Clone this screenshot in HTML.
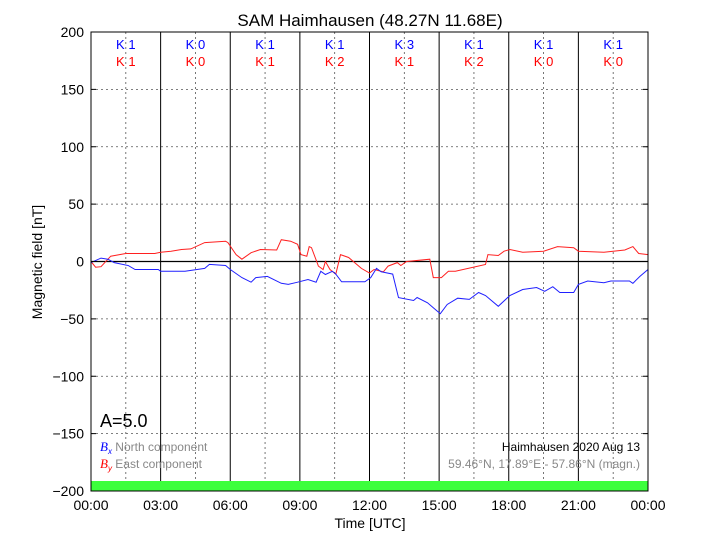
<!DOCTYPE html>
<html><head><meta charset="utf-8">
<style>
body{margin:0;background:#fff;}
svg{display:block;font-family:"Liberation Sans",sans-serif;}
</style></head>
<body>
<svg id="chart" width="720" height="540" viewBox="0 0 720 540">
<rect x="0" y="0" width="720" height="540" fill="#fff"/>
<text x="370" y="26" font-size="17" text-anchor="middle">SAM Haimhausen (48.27N 11.68E)</text>
<g id="grid"></g>
<rect x="91" y="481" width="557" height="10" fill="#3cff3c"/>
<g id="series"></g>
<g id="klabels"></g>
<text x="100" y="427" font-size="18">A=5.0</text>
<g>
<text x="100" y="451" font-size="12" fill="#888"><tspan fill="blue" font-family="Liberation Serif" font-style="italic" font-size="13">B</tspan><tspan fill="blue" font-size="8" dy="3" font-style="italic">x</tspan><tspan dy="-3"> North component</tspan></text>
<text x="100" y="468" font-size="12" fill="#888"><tspan fill="red" font-family="Liberation Serif" font-style="italic" font-size="13">B</tspan><tspan fill="red" font-size="8" dy="3" font-style="italic">y</tspan><tspan dy="-3"> East component</tspan></text>
</g>
<text x="640" y="451" font-size="12" text-anchor="end">Haimhausen 2020 Aug 13</text>
<text x="640" y="468" font-size="12" text-anchor="end" fill="#888">59.46°N, 17.89°E - 57.86°N (magn.)</text>
<text x="370" y="528" font-size="14" text-anchor="middle">Time [UTC]</text>
<text x="0" y="0" font-size="14" text-anchor="middle" transform="translate(42,262) rotate(-90)">Magnetic field [nT]</text>
<g id="axes"></g>
</svg>
<script>
const bxTime=[0,0.43,0.73,1.0,1.6,1.9,2.9,3.0,4.05,4.9,5.1,5.8,6.0,6.5,6.9,7.1,7.6,8.2,8.5,8.9,9.35,9.7,9.9,10.1,10.4,10.55,10.8,11.8,12.05,12.3,12.5,13.0,13.25,13.9,14.05,14.5,14.9,15.05,15.35,15.8,16.3,16.7,17.0,17.55,18.05,18.6,19.2,19.55,19.9,20.2,20.8,21.0,21.4,22.1,22.4,23.2,23.35,23.65,24];
const bxValues=[-1,3,2,-1,-3.5,-7,-7,-8.5,-8.5,-6,-2.5,-3.5,-7,-14,-18,-14,-13,-19,-20,-18,-15.7,-18,-8.5,-11.3,-8.5,-11,-17.7,-17.7,-14,-6,-9,-11,-31.5,-34,-31.4,-36,-43,-45.5,-37.5,-32,-33,-27,-29.6,-39,-29.6,-24.4,-22.7,-26,-22,-27,-27,-20,-17,-18.5,-17,-17,-19,-13,-7];
const byTime=[0,0.2,0.43,0.85,1.5,2.75,3.0,3.45,3.9,4.3,4.9,5.8,5.9,6.25,6.5,6.9,7.3,8.0,8.2,8.6,8.9,9.05,9.3,9.4,9.5,9.8,10.0,10.1,10.3,10.55,10.75,11.1,11.65,12.0,12.2,12.6,12.8,13.2,13.35,13.6,14.6,14.75,15.1,15.4,15.7,17.0,17.1,17.55,17.8,18.05,18.6,19.5,20.1,20.8,21.0,22.1,23.0,23.35,23.6,24];
const byValues=[0,-5,-4.5,4.6,7,7,8,9,10.5,11,16.5,17.7,16.5,6,2,7.7,10.5,10,19,17.7,15,6,4.6,13,12,-4,-7,0,-7,-11,6,3.5,-6,-10,-7,-9,-4,-1,-3.5,0,2,-14,-14,-8.5,-8.5,-2.6,6,5.2,9,10.5,8,9,13,12,9,8,10,13,7,6];
const kBx=["K 1","K 0","K 1","K 1","K 3","K 1","K 1","K 1"];
const kBy=["K 1","K 0","K 1","K 2","K 1","K 2","K 0","K 0"];
const yTicks=[200,150,100,50,0,-50,-100,-150,-200];
const xTicks=["00:00","03:00","06:00","09:00","12:00","15:00","18:00","21:00","00:00"];

const X0=91,X1=648,Y0=32,Y1=491;
const xs=t=>X0+(X1-X0)*t/24;
const ys=v=>Y0+(Y1-Y0)*(200-v)/400;
const NS="http://www.w3.org/2000/svg";
function mk(tag,attrs,parent){const e=document.createElementNS(NS,tag);for(const k in attrs)e.setAttribute(k,attrs[k]);parent.appendChild(e);return e;}
const grid=document.getElementById('grid'),axes=document.getElementById('axes'),series=document.getElementById('series'),kl=document.getElementById('klabels');

yTicks.forEach(v=>{
  const y=ys(v);
  if(v!==200&&v!==-200&&v!==0){const l=mk('line',{x1:X0,x2:X1,y1:y,y2:y,stroke:'#555','stroke-width':0.8,'stroke-dasharray':'2,3'},grid);
  
  }
  const t=mk('text',{x:84,y:y+5,'font-size':14,'text-anchor':'end'},axes);t.textContent=v===0?'0':(v<0?'\u2212'+(-v):v);
  
  
  mk('line',{x1:X0,x2:X0+5,y1:y,y2:y,stroke:'#000'},axes);
  mk('line',{x1:X1,x2:X1-5,y1:y,y2:y,stroke:'#000'},axes);
});
for(let h=1.5;h<24;h+=3){const x=xs(h);const l=mk('line',{x1:x,x2:x,y1:Y0,y2:Y1,stroke:'#555','stroke-width':0.8,'stroke-dasharray':'2,3'},grid);
  
  }
xTicks.forEach((s,i)=>{
  const x=xs(i*3);
  if(i>0&&i<8){const l=mk('line',{x1:x,x2:x,y1:Y0,y2:Y1,stroke:'#000','stroke-width':1},grid);
  
  }
  const t=mk('text',{x:x,y:510,'font-size':14,'text-anchor':'middle'},axes);t.textContent=s;
  
  
});
const zl=mk('line',{x1:X0,x2:X1,y1:ys(0),y2:ys(0),stroke:'#000','stroke-width':1.3},grid);


const fr=mk('rect',{x:X0,y:Y0,width:X1-X0,height:Y1-Y0,fill:'none',stroke:'#000','stroke-width':1},axes);



function line(tv,vv,color,name){
  const d=tv.map((t,i)=>(i?'L':'M')+xs(t).toFixed(1)+','+ys(vv[i]).toFixed(1)).join('');
  const p=mk('path',{d:d,fill:'none',stroke:color,'stroke-width':1},series);
  
  
}
line(byTime,byValues,'#ff2020','by-east-line');
line(bxTime,bxValues,'#2020ff','bx-north-line');

kBx.forEach((s,i)=>{
  const x=xs(i*3+1.5);
  const a=mk('text',{x:x,y:49,'font-size':13,fill:'blue','text-anchor':'middle'},kl);a.textContent=s;
  
  
  const b=mk('text',{x:x,y:66,'font-size':13,fill:'red','text-anchor':'middle'},kl);b.textContent=kBy[i];
  
  
});
</script>
</body></html>
